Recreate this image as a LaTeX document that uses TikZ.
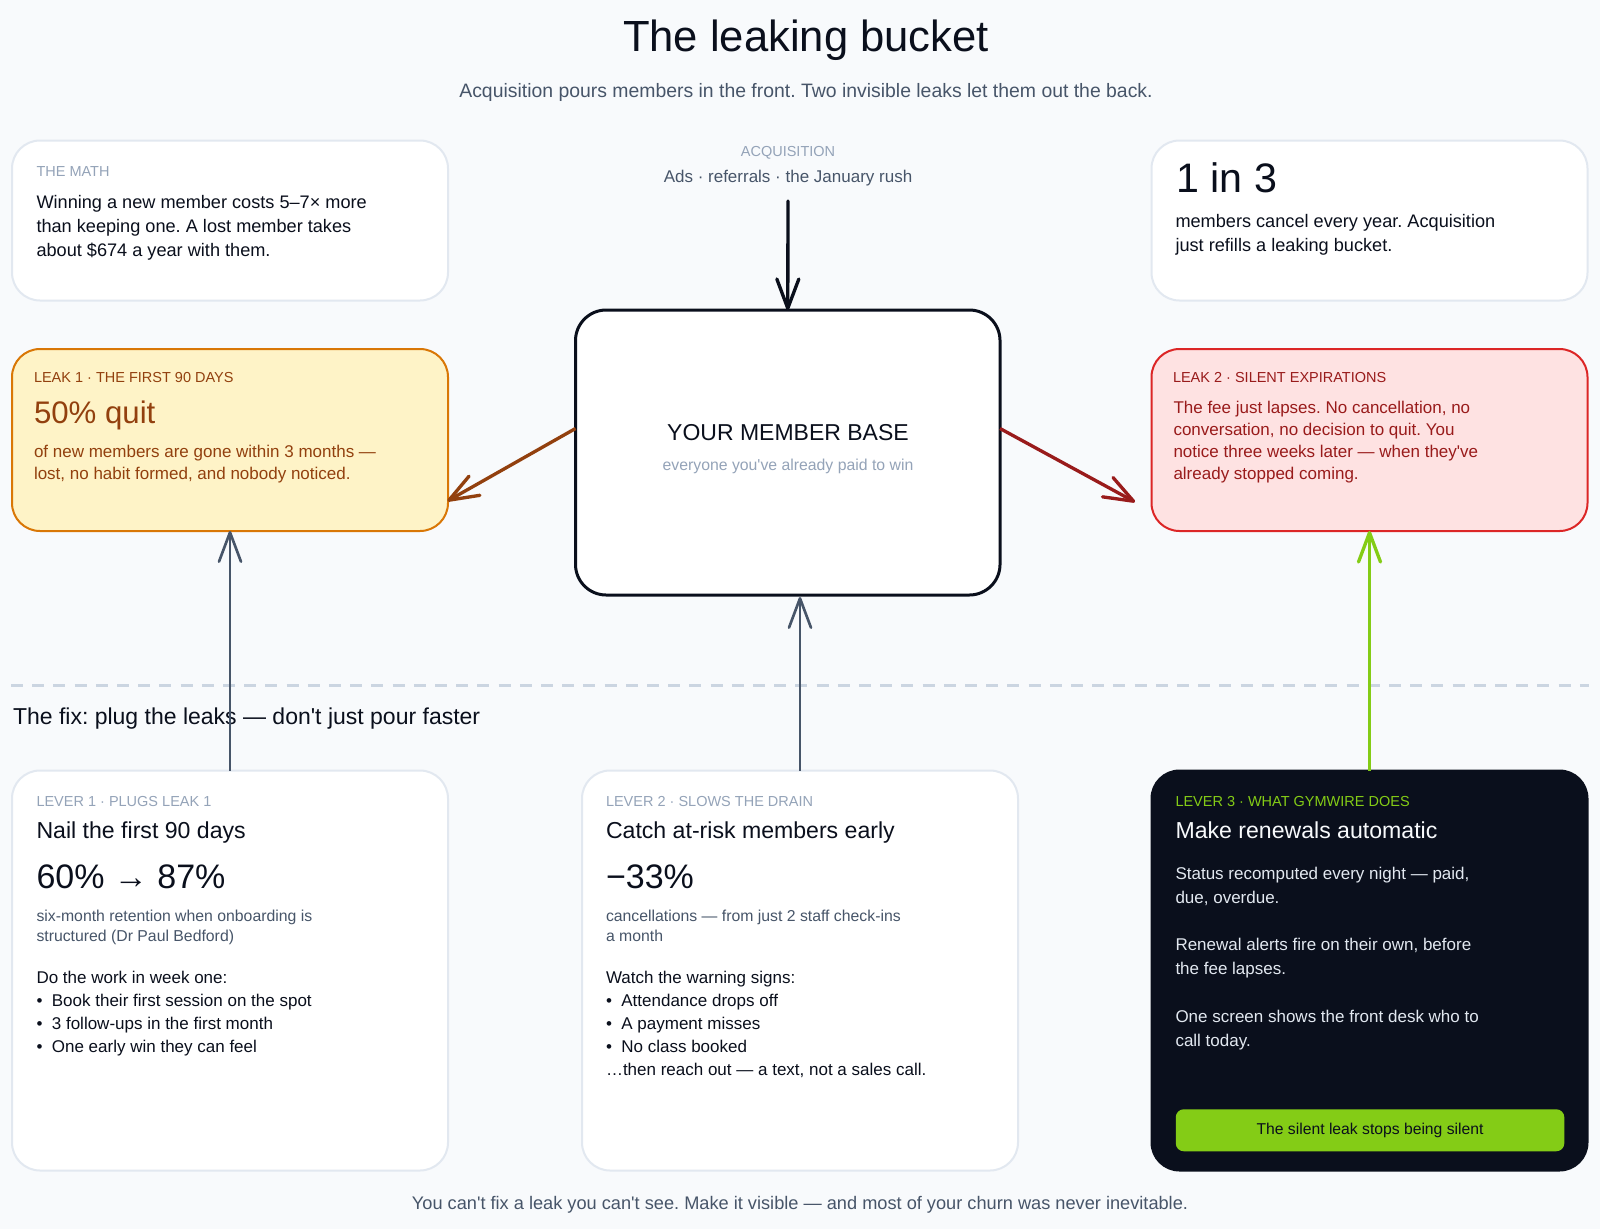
\documentclass[tikz,border=0pt]{standalone}
\usepackage{fontspec}
\setmainfont{Liberation Sans}[Ligatures=TeXOff]
\usetikzlibrary{arrows.meta, calc}
\definecolor{page-bg}{HTML}{F8FAFC}
\definecolor{card-line}{HTML}{E2E8F0}
\definecolor{rule-line}{HTML}{CBD5E1}
\definecolor{ink}{HTML}{0A0F1C}
\definecolor{slate}{HTML}{475569}
\definecolor{muted}{HTML}{94A3B8}
\definecolor{leak-a-fill}{HTML}{FEF3C7}
\definecolor{leak-a-line}{HTML}{D97706}
\definecolor{leak-a-text}{HTML}{92400E}
\definecolor{leak-b-fill}{HTML}{FEE2E2}
\definecolor{leak-b-line}{HTML}{DC2626}
\definecolor{leak-b-text}{HTML}{991B1B}
\definecolor{lime}{HTML}{84CC16}
% font size and leading in reference pixels
\newcommand{\pxfont}[2]{\fontsize{\dimexpr #1pt*3/4\relax}{\dimexpr #2pt*3/4\relax}\selectfont}
\frenchspacing
\tikzset{%
  x=0.75pt, y=-0.75pt,
  card/.style={%
    rectangle,
    anchor=north west,
    inner sep=0pt, outer sep=0pt,
    minimum width=327pt,
    rounded corners=21pt,
    fill=white,
    draw=card-line, line width=1.5pt,
  },
  leakbox/.style={card, minimum height=136.5pt},
  leverbox/.style={card, minimum height=300pt},
  txt/.style={%
    anchor=north west,
    inner sep=0pt, outer sep=0pt,
    align=left,
    text=ink,
  },
  tag/.style={txt, text=muted, font=\pxfont{14.5}{20}},
  body/.style={txt, font=\pxfont{18.15}{24}},
  small/.style={txt, text=slate, font=\pxfont{15.8}{20}},
  head/.style={txt, font=\pxfont{23.1}{30}},
  big/.style={txt, font=\pxfont{34}{40}},
  mid/.style={txt, anchor=north, align=center},
  edge/.style={%
    -{Straight Barb[length=22pt, width=16.5pt, round]},
    slate, line width=2pt,
  },
  thickedge/.style={edge, line width=2.5pt},
}
\begin{document}
\begin{tikzpicture}
  \path[use as bounding box, fill=page-bg] (0,0) rectangle (1600,1229);

  \node [mid, font=\pxfont{43.6}{50}] at (806,16) (title) {\strut The leaking bucket};
  \node [mid, text=slate, font=\pxfont{19.4}{26}] at (806,79) (subtitle) {\strut Acquisition pours members in the front. Two invisible leaks let them out the back.};

  % top row
  \node [card, minimum height=120pt] at (12,140.5) (math) {};
  \node [tag] at (36.5,162) (math_tag) {\strut THE MATH};
  \node [body] at (36.5,192) (math_body) {\strut Winning a new member costs 5–7× more\\than keeping one. A lost member takes\\about \$674 a year with them.};

  \node [mid, text=muted, font=\pxfont{14.5}{20}] at (788,142.5) (acq_tag) {\strut ACQUISITION};
  \node [mid, text=slate, font=\pxfont{17}{24}] at (788,165.5) (acq_body) {\strut Ads · referrals · the January rush};

  \node [card, minimum height=120pt] at (1151.5,140.5) (ratio) {};
  \node [big, font=\pxfont{41.2}{46}] at (1176.5,160) (ratio_big) {\strut 1 in 3};
  \node [body] at (1175.5,210.5) (ratio_body) {\strut members cancel every year. Acquisition\\just refills a leaking bucket.};

  % leaks and the base
  \node [leakbox, fill=leak-a-fill, draw=leak-a-line] at (12,349) (leak1) {};
  \node [tag, text=leak-a-text] at (34,368.5) (leak1_tag) {\strut LEAK 1 · THE FIRST 90 DAYS};
  \node [big, text=leak-a-text, font=\pxfont{31.2}{38}] at (34,397) (leak1_big) {\strut 50\% quit};
  \node [txt, text=leak-a-text, font=\pxfont{17}{22}] at (34,442.5) (leak1_body) {\strut of new members are gone within 3 months —\\lost, no habit formed, and nobody noticed.};

  \node [card, minimum width=318.4pt, minimum height=213.75pt, rounded corners=23pt, draw=ink, line width=2.25pt] at (575.5,310) (base) {};
  \node [mid, font=\pxfont{23}{30}] at (788,419) (base_title) {\strut YOUR MEMBER BASE};
  \node [mid, text=muted, font=\pxfont{15.8}{22}] at (788,455) (base_sub) {\strut everyone you've already paid to win};

  \node [leakbox, fill=leak-b-fill, draw=leak-b-line] at (1151.5,349) (leak2) {};
  \node [tag, text=leak-b-text] at (1173,368.5) (leak2_tag) {\strut LEAK 2 · SILENT EXPIRATIONS};
  \node [txt, text=leak-b-text, font=\pxfont{17}{22}] at (1173.5,398.5) (leak2_body) {\strut The fee just lapses. No cancellation, no\\conversation, no decision to quit. You\\notice three weeks later — when they've\\already stopped coming.};

  % the fix
  \coordinate (fix_left) at (11,685.7);
  \coordinate (fix_right) at (1589,685.7);
  \draw [rule-line, line width=2pt, dash pattern=on 9pt off 6.9pt] (fix_left) -- (fix_right);

  \node [txt, font=\pxfont{23}{30}] at (13,703) (fix) {\strut The fix: plug the leaks — don't just pour faster};

  \node [leverbox] at (12,770.5) (lever1) {};
  \node [tag] at (36.5,792) (lever1_tag) {\strut LEVER 1 · PLUGS LEAK 1};
  \node [head] at (36.5,817) (lever1_head) {\strut Nail the first 90 days};
  \node [big] at (36.5,860) (lever1_big) {\strut 60\% → 87\%};
  \node [small] at (36.5,907.5) (lever1_small) {\strut six-month retention when onboarding is\\structured (Dr Paul Bedford)};
  \node [txt, font=\pxfont{17}{23}] at (36.5,967.5) (lever1_list) {\strut Do the work in week one:\\•\ \ Book their first session on the spot\\•\ \ 3 follow-ups in the first month\\•\ \ One early win they can feel};

  \node [leverbox] at (582,770.5) (lever2) {};
  \node [tag] at (606,792) (lever2_tag) {\strut LEVER 2 · SLOWS THE DRAIN};
  \node [head] at (606,817) (lever2_head) {\strut Catch at-risk members early};
  \node [big] at (606,860) (lever2_big) {\strut −33\%};
  \node [small] at (606,907.5) (lever2_small) {\strut cancellations — from just 2 staff check-ins\\a month};
  \node [txt, font=\pxfont{17}{23}] at (606,967.5) (lever2_list) {\strut Watch the warning signs:\\•\ \ Attendance drops off\\•\ \ A payment misses\\•\ \ No class booked\\…then reach out — a text, not a sales call.};

  \node [leverbox, fill=ink, draw=ink] at (1151.5,770.5) (lever3) {};
  \node [tag, text=lime] at (1175.5,792) (lever3_tag) {\strut LEVER 3 · WHAT GYMWIRE DOES};
  \node [head, text=page-bg] at (1175.5,817) (lever3_head) {\strut Make renewals automatic};
  \node [txt, text=card-line, font=\pxfont{17}{23.9}] at (1175.5,862.5) (lever3_body) {\strut Status recomputed every night — paid,\\due, overdue.\\[\baselineskip]Renewal alerts fire on their own, before\\the fee lapses.\\[\baselineskip]One screen shows the front desk who to\\call today.};
  \node [rectangle, anchor=north west, inner sep=0pt, minimum width=291.4pt, minimum height=31.5pt, rounded corners=6pt, fill=lime, text=ink, font=\pxfont{15.7}{20}] at (1175.5,1109) (band) {The silent leak stops being silent};

  \node [mid, text=slate, font=\pxfont{18.2}{24}] at (800,1192.5) (closing) {\strut You can't fix a leak you can't see. Make it visible — and most of your churn was never inevitable.};

  % connectors
  \coordinate (acq_start) at (788,201);
  \coordinate (drain_left) at ($(base.west)+(0,-24)$);
  \coordinate (leak1_in) at (447.5,501);
  \coordinate (drain_right) at ($(base.east)+(0,-24)$);
  \coordinate (leak2_in) at (1135,502);
  \coordinate (base_in) at (800,597);

  \draw [thickedge, ink, line cap=round] (acq_start) -- (base.north);
  \draw [thickedge, leak-a-text] (drain_left) -- (leak1_in);
  \draw [thickedge, leak-b-text] (drain_right) -- (leak2_in);
  \draw [edge] (lever1.north) -- (leak1.south);
  \draw [edge] (lever2.north) -- (base_in);
  \draw [thickedge, lime] (lever3.north) -- (leak2.south);
\end{tikzpicture}
\end{document}
